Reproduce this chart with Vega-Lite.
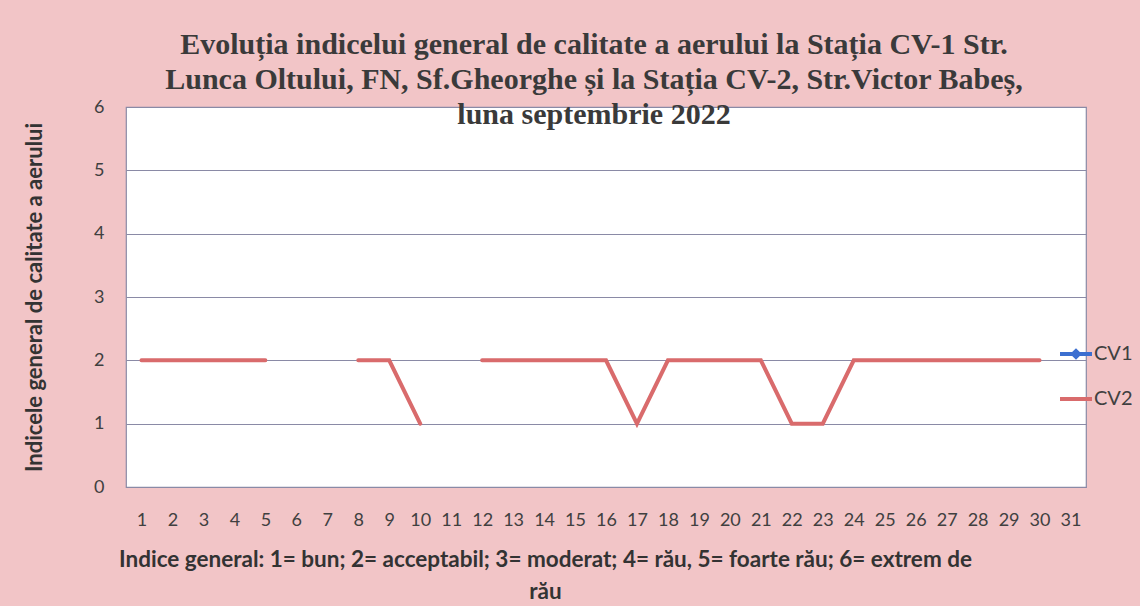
{
  "$schema": "https://vega.github.io/schema/vega-lite/v6.json",
  "width": 960,
  "height": 380,
  "autosize": "none",
  "padding": {"left": 126, "top": 107, "right": 54, "bottom": 119},
  "background": "#f2c5c7",
  "title": {
    "text": ["Evoluția indicelui general de calitate a aerului la Stația CV-1 Str.", "Lunca Oltului, FN, Sf.Gheorghe și la Stația CV-2, Str.Victor Babeș,", "luna septembrie 2022"],
    "font": "Liberation Serif",
    "fontSize": 30,
    "fontWeight": "bold",
    "color": "#3a3a3a",
    "lineHeight": 35,
    "anchor": "middle",
    "frame": "group",
    "dx": -12,
    "offset": -32
  },
  "config": {
    "view": {"stroke": "#8a8aa6", "strokeWidth": 1.2, "fill": "white"},
    "axis": {"labelFont": "Lato", "titleFont": "Lato", "labelColor": "#404040", "titleColor": "#333333"}
  },
  "data": {
    "values": [
      {"day": 1, "series": "CV2", "v": 2},
      {"day": 2, "series": "CV2", "v": 2},
      {"day": 3, "series": "CV2", "v": 2},
      {"day": 4, "series": "CV2", "v": 2},
      {"day": 5, "series": "CV2", "v": 2},
      {"day": 6, "series": "CV2", "v": null},
      {"day": 7, "series": "CV2", "v": null},
      {"day": 8, "series": "CV2", "v": 2},
      {"day": 9, "series": "CV2", "v": 2},
      {"day": 10, "series": "CV2", "v": 1},
      {"day": 11, "series": "CV2", "v": null},
      {"day": 12, "series": "CV2", "v": 2},
      {"day": 13, "series": "CV2", "v": 2},
      {"day": 14, "series": "CV2", "v": 2},
      {"day": 15, "series": "CV2", "v": 2},
      {"day": 16, "series": "CV2", "v": 2},
      {"day": 17, "series": "CV2", "v": 1},
      {"day": 18, "series": "CV2", "v": 2},
      {"day": 19, "series": "CV2", "v": 2},
      {"day": 20, "series": "CV2", "v": 2},
      {"day": 21, "series": "CV2", "v": 2},
      {"day": 22, "series": "CV2", "v": 1},
      {"day": 23, "series": "CV2", "v": 1},
      {"day": 24, "series": "CV2", "v": 2},
      {"day": 25, "series": "CV2", "v": 2},
      {"day": 26, "series": "CV2", "v": 2},
      {"day": 27, "series": "CV2", "v": 2},
      {"day": 28, "series": "CV2", "v": 2},
      {"day": 29, "series": "CV2", "v": 2},
      {"day": 30, "series": "CV2", "v": 2}
    ]
  },
  "encoding": {
    "x": {
      "field": "day",
      "type": "ordinal",
      "scale": {"type": "point", "padding": 0.5, "domain": [1,2,3,4,5,6,7,8,9,10,11,12,13,14,15,16,17,18,19,20,21,22,23,24,25,26,27,28,29,30,31]},
      "axis": {
        "labelAngle": 0,
        "labelFontSize": 18,
        "labelPadding": 24,
        "ticks": false,
        "domain": false,
        "grid": false,
        "title": ["Indice general: 1= bun; 2= acceptabil; 3= moderat; 4= rău, 5= foarte rău; 6= extrem de", "rău"],
        "titleFontSize": 22.5,
        "titleFontWeight": "bold",
        "titleLineHeight": 32,
        "titleX": 419,
        "titleY": 61,
        "titleAnchor": "middle",
        "titleAlign": "center",
        "titleBaseline": "top"
      }
    },
    "y": {
      "field": "v",
      "type": "quantitative",
      "scale": {"domain": [0, 6], "nice": false},
      "axis": {
        "values": [0,1,2,3,4,5,6],
        "labelFontSize": 18,
        "labelPadding": 22,
        "ticks": false,
        "domain": false,
        "gridColor": "#8a8aa6",
        "gridWidth": 1.2,
        "title": "Indicele general  de calitate a aerului",
        "titleFontSize": 22,
        "titleFontWeight": "bold",
        "titlePadding": 47
      }
    }
  },
  "layer": [
    {
      "mark": {"type": "line", "strokeWidth": 4, "color": "#d96b6c", "invalid": "break-paths-show-domains", "strokeCap": "round"},
      "encoding": {"detail": {"field": "series"}}
    },
    {
      "mark": {"type": "point", "opacity": 0, "size": 400, "strokeWidth": 4, "invalid": "filter"},
      "encoding": {
        "stroke": {
          "field": "series",
          "type": "nominal",
          "scale": {"domain": ["CV1", "CV2"], "range": ["#3c6fd0", "#d96b6c"]},
          "legend": {
            "orient": "none",
            "legendX": 938,
            "legendY": 235,
            "title": null,
            "labelFont": "Lato",
            "labelFontSize": 20,
            "labelColor": "#404040",
            "labelOffset": 6,
            "rowPadding": 22,
            "symbolOpacity": 1,
            "symbolStrokeWidth": 4,
            "symbolSize": 400
          }
        },
        "shape": {
          "field": "series",
          "type": "nominal",
          "scale": {"domain": ["CV1", "CV2"], "range": ["M-1.6,0H1.6M-0.3,0L0,-0.3L0.3,0L0,0.3Z", "M-1.6,0H1.6"]}
        }
      }
    }
  ]
}
